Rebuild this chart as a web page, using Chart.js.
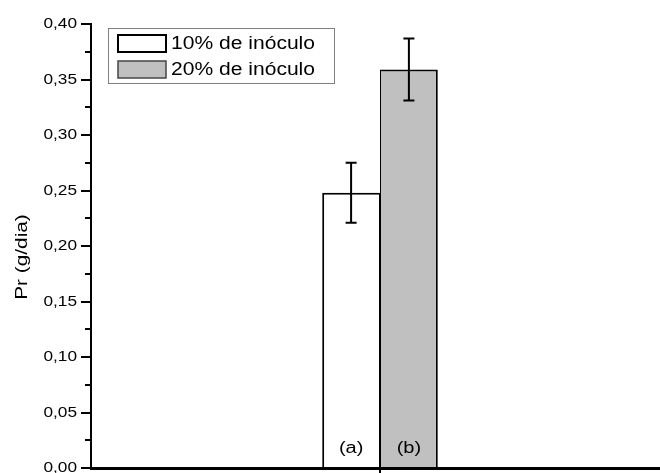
<!DOCTYPE html>
<html>
<head>
<meta charset="utf-8">
<script src="https://cdn.jsdelivr.net/npm/chart.js@4/dist/chart.umd.min.js"></script>
<style>
  html, body { margin: 0; padding: 0; background: #fff; overflow: hidden; width: 660px; height: 473px; }
  #wrap { width: 670px; height: 480px; }
</style>
</head>
<body>
<div id="wrap"><canvas id="c" width="670" height="480"></canvas></div>
<script>
// ---- data ----
const categories = [''];
const seriesNames = ['10% de inóculo', '20% de inóculo'];
const values10 = [0.248];
const errors10 = [0.027];
const values20 = [0.359];
const errors20 = [0.028];
const barLetters = ['(a)', '(b)'];
const yTickMin = 0;
const yTickMax = 0.40;
const yTickStep = 0.05;
const yTitle = 'Pr (g/dia)';

const FONT = '"Liberation Sans", Arial, Helvetica, sans-serif';

// draw text horizontally widened (the original typeface is wide)
function wideText(ctx, text, x, y, align, sx, rotate) {
  ctx.save();
  ctx.translate(x, y);
  if (rotate) ctx.rotate(rotate);
  ctx.scale(sx, 1);
  ctx.textAlign = align;
  ctx.fillText(text, 0, 0);
  ctx.restore();
}

const errorBars = {
  id: 'errorBars',
  afterDatasetsDraw(chart) {
    const ctx = chart.ctx;
    const y = chart.scales.y;
    ctx.save();
    ctx.strokeStyle = '#000';
    ctx.lineWidth = 2;
    chart.data.datasets.forEach((ds, i) => {
      const meta = chart.getDatasetMeta(i);
      meta.data.forEach((bar, j) => {
        const v = ds.data[j], e = ds.errors[j];
        const yt = y.getPixelForValue(v + e), yb = y.getPixelForValue(v - e);
        const x = bar.x, cap = 5.5;
        ctx.beginPath();
        ctx.moveTo(x, yt); ctx.lineTo(x, yb);
        ctx.moveTo(x - cap, yt); ctx.lineTo(x + cap, yt);
        ctx.moveTo(x - cap, yb); ctx.lineTo(x + cap, yb);
        ctx.stroke();
      });
    });
    ctx.restore();
  }
};

const letters = {
  id: 'letters',
  afterDatasetsDraw(chart) {
    const ctx = chart.ctx;
    const y = chart.scales.y;
    ctx.save();
    ctx.fillStyle = '#000';
    ctx.font = '16px ' + FONT;
    ctx.textBaseline = 'middle';
    chart.data.datasets.forEach((ds, i) => {
      const meta = chart.getDatasetMeta(i);
      meta.data.forEach((bar) => {
        wideText(ctx, barLetters[i], bar.x, y.getPixelForValue(0) - 19, 'center', 1.25);
      });
    });
    ctx.restore();
  }
};

const axisText = {
  id: 'axisText',
  afterDraw(chart) {
    const ctx = chart.ctx;
    const y = chart.scales.y;
    const a = chart.chartArea;
    ctx.save();
    ctx.fillStyle = '#000';
    // minor ticks
    ctx.strokeStyle = '#000';
    ctx.lineWidth = 2;
    for (let v = yTickMin + yTickStep / 2; v < yTickMax; v += yTickStep) {
      const py = Math.round(y.getPixelForValue(v));
      ctx.beginPath();
      ctx.moveTo(a.left - 6, py);
      ctx.lineTo(a.left, py);
      ctx.stroke();
    }
    // tick labels (from the scale's own ticks)
    ctx.font = '15px ' + FONT;
    ctx.textBaseline = 'middle';
    y.ticks.forEach((t, i) => {
      const lbl = y.options.ticks.callback(t.value, i, y.ticks);
      wideText(ctx, lbl, a.left - 14, y.getPixelForValue(t.value), 'right', 1.15);
    });
    // axis title
    ctx.font = '16px ' + FONT;
    wideText(ctx, yTitle, a.left - 68, (a.top + a.bottom) / 2 + 11, 'center', 1.3, -Math.PI / 2);
    ctx.restore();
  }
};

const boxLegend = {
  id: 'boxLegend',
  afterDraw(chart) {
    const ctx = chart.ctx;
    const a = chart.chartArea;
    const bx = a.left + 17, by = a.top + 4, bw = 226, bh = 55;
    ctx.save();
    ctx.fillStyle = '#fff';
    ctx.fillRect(bx, by, bw, bh);
    ctx.strokeStyle = '#808080';
    ctx.lineWidth = 1;
    ctx.strokeRect(bx + 0.5, by + 0.5, bw, bh);
    ctx.font = '18px ' + FONT;
    ctx.textBaseline = 'middle';
    chart.data.datasets.forEach((ds, i) => {
      const sy = by + 7 + i * 26;
      ctx.fillStyle = ds.backgroundColor;
      ctx.fillRect(bx + 10, sy, 48, 17);
      ctx.strokeStyle = i === 0 ? '#000' : '#444';
      ctx.lineWidth = i === 0 ? 2 : 1.5;
      ctx.strokeRect(bx + 10, sy, 48, 17);
      ctx.fillStyle = '#000';
      wideText(ctx, ds.label, bx + 63, sy + 9, 'left', 1.17);
    });
    ctx.restore();
  }
};

new Chart(document.getElementById('c'), {
  type: 'bar',
  data: {
    labels: categories,
    datasets: [
      { label: seriesNames[0], data: values10, errors: errors10,
        backgroundColor: '#ffffff', borderColor: '#000000',
        borderWidth: { top: 2, left: 2, right: 1, bottom: 0 } },
      { label: seriesNames[1], data: values20, errors: errors20,
        backgroundColor: '#c0c0c0', borderColor: '#000000',
        borderWidth: { top: 2, left: 1, right: 2, bottom: 0 } }
    ]
  },
  options: {
    responsive: false,
    animation: false,
    events: [],
    layout: { padding: { top: 24, left: 0, right: 1, bottom: 0 } },
    datasets: { bar: { categoryPercentage: 0.2, barPercentage: 1.0 } },
    plugins: { legend: { display: false }, tooltip: { enabled: false } },
    scales: {
      x: {
        grid: { display: true, drawOnChartArea: false, drawTicks: true, tickLength: 5,
                offset: false, color: '#000', lineWidth: 2 },
        border: { display: true, color: '#000', width: 3 },
        ticks: { display: false }
      },
      y: {
        min: yTickMin, max: yTickMax,
        afterFit(scale) { scale.width = 91; },
        ticks: { stepSize: yTickStep, color: 'rgba(0,0,0,0)', padding: 3,
                 font: { family: FONT, size: 15 },
                 callback: (v) => v.toFixed(2).replace('.', ',') },
        grid: { display: true, drawOnChartArea: false, drawTicks: true, tickLength: 10,
                color: '#000', lineWidth: 2 },
        border: { display: true, color: '#000', width: 2 },
        title: { display: false }
      }
    }
  },
  plugins: [errorBars, letters, axisText, boxLegend]
});
</script>
</body>
</html>
